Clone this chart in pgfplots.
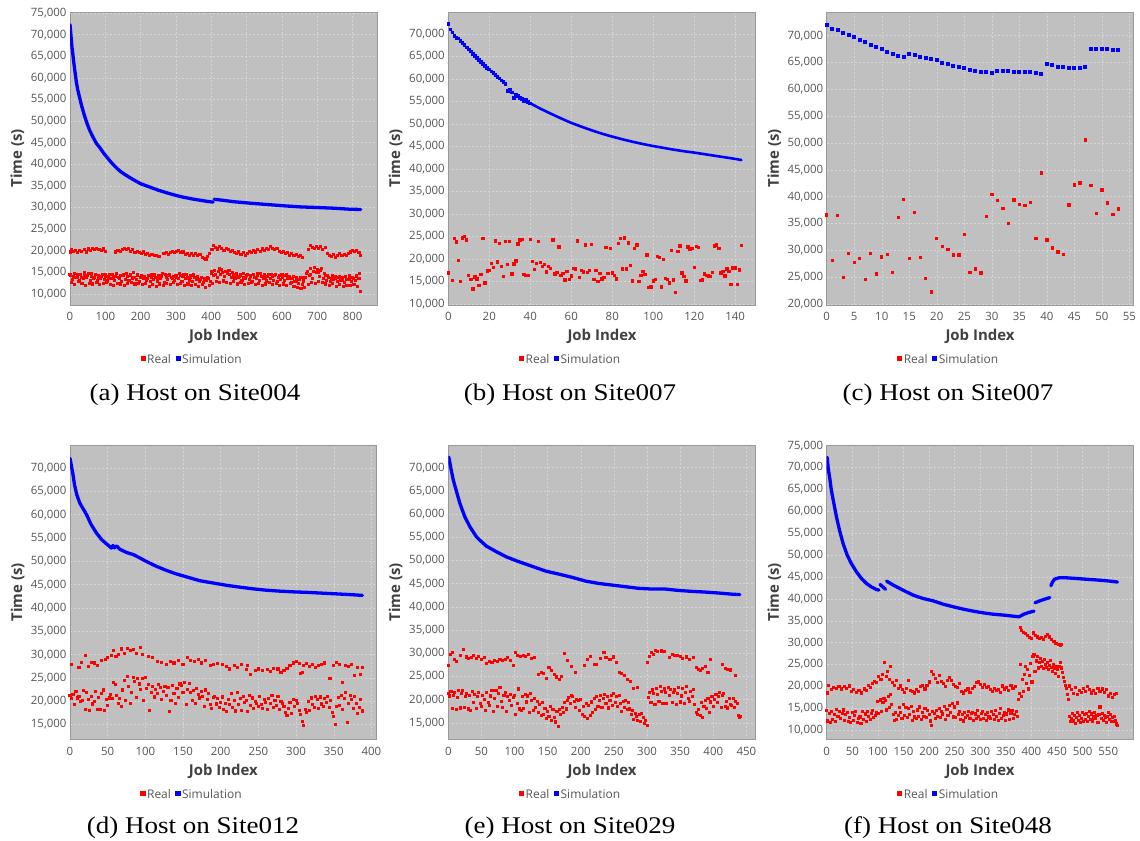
\documentclass[border=0pt]{standalone}
\usepackage{pgfplots}
\pgfplotsset{compat=1.18}
\usepackage{fontspec}
\setmainfont{Liberation Serif}
\newfontfamily\chartfont{Open Sans}
\definecolor{plotbg}{RGB}{192,192,192}
\definecolor{gridc}{RGB}{214,214,214}
\definecolor{tickc}{RGB}{85,85,85}
\definecolor{labc}{RGB}{64,64,64}
\definecolor{realc}{RGB}{255,0,0}
\definecolor{simc}{RGB}{0,0,255}
\pgfplotsset{
  panel/.style={
    scale only axis, anchor=south west,
    axis background/.style={fill=plotbg},
    axis line style={draw=black!40, line width=0.6pt},
    grid=major,
    major grid style={draw=gridc, line width=0.5pt, dash pattern=on 2pt off 2pt},
    tick style={draw=none},
    ytick distance=5000,
    scaled y ticks=false, scaled x ticks=false,
    /pgf/number format/assume math mode=true,
    /pgf/number format/1000 sep={,},
    ticklabel style={font=\chartfont\fontsize{11.5}{13}\selectfont, text=tickc},
    xticklabel style={yshift=-4bp},
    xlabel={Job Index}, ylabel={Time (s)},
    label style={font=\chartfont\bfseries\fontsize{15}{16}\selectfont, text=labc},
    xlabel style={at={(axis description cs:0.5,-0.1075)}, anchor=center},
    ylabel style={at={(axis description cs:-0.171,0.5)}, anchor=center},
    legend columns=-1,
    legend image code/.code={\fill[draw=none, line width=0pt] (0bp,-1.4bp) rectangle (5.2bp,3.8bp);},
    legend style={draw=none, fill=none, at={(axis description cs:0.397,-0.187)}, anchor=center,
      inner sep=0pt, /tikz/every even column/.append style={column sep=3bp},
      nodes={inner xsep=1.5bp, font=\chartfont\fontsize{12}{13}\selectfont, text=tickc}},
  },
  real/.style={only marks, mark=square*, mark size=1.05bp, color=realc, mark options={line width=0pt}},
  simline/.style={color=simc, line width=3.3bp, no marks, line join=round, line cap=round},
  simmark/.style={only marks, mark=square*, mark size=1.4bp, color=simc, mark options={line width=0pt}},
}
\newcommand{\subcap}[2]{\node[font=\fontsize{24}{28}\selectfont, anchor=center] at (#1) {\scalebox{1.13}[1]{#2}};}
\begin{document}
\begin{tikzpicture}
\useasboundingbox (0,0) rectangle (1140bp,841bp);
%% (a)
\begin{axis}[panel, at={(70bp,536bp)}, width=307bp, height=293bp,
  xmin=0, xmax=869, ymin=7450, ymax=75230, xtick distance=100]
\addplot[real] table[row sep=\\]{x y\\0 14600\\10 14100\\20 13800\\30 14500\\40 14900\\50 14300\\60 14700\\70 13900\\80 14200\\90 14000\\100 14400\\110 13700\\120 14600\\130 14100\\140 13600\\150 14300\\160 14800\\170 14400\\180 14900\\190 14200\\200 13800\\210 14100\\220 13500\\230 13900\\240 14400\\250 13700\\260 14000\\270 14600\\280 14200\\290 13600\\300 14300\\310 14800\\320 14100\\330 14500\\340 13900\\350 14400\\360 13700\\370 13300\\380 13600\\390 13900\\400 14800\\410 15400\\420 15100\\430 15600\\440 15300\\450 15500\\460 14900\\470 14400\\480 14100\\490 14700\\500 14300\\510 14000\\520 14500\\530 14200\\540 14800\\550 14400\\560 14100\\570 14600\\580 14300\\590 13900\\600 14500\\610 14200\\620 14000\\630 13600\\640 13900\\650 13300\\660 13700\\670 14800\\680 15900\\690 15200\\700 15700\\710 15400\\720 14800\\730 14300\\740 13600\\750 14100\\760 13800\\770 13400\\780 14000\\790 13700\\800 13900\\810 14300\\820 14800\\};
\addlegendentry{Real}
\addplot[simline] table[row sep=\\]{x y\\0 72300\\2 70500\\4 68500\\6 66800\\8 65500\\10 64000\\14 61500\\18 59000\\22 57200\\27 55500\\33 53500\\40 51500\\48 49500\\56 47800\\65 46300\\75 44800\\84 43900\\95 42600\\105 41600\\115 40600\\125 39700\\135 38900\\145 38200\\160 37400\\178 36500\\200 35500\\227 34700\\250 34000\\274 33400\\300 32800\\320 32400\\345 32000\\367 31700\\390 31400\\405 31250\\};
\addlegendentry{Simulation}
\addplot[simline, forget plot] table[row sep=\\]{x y\\408 31900\\430 31700\\463 31350\\510 31000\\557 30700\\604 30400\\651 30150\\699 30000\\745 29850\\793 29600\\823 29550\\};
\addplot[real, forget plot] table[row sep=\\]{x y\\4 12600\\14 12200\\24 12800\\34 12400\\44 12000\\54 12500\\64 12300\\74 12700\\84 12100\\94 12400\\104 12600\\114 12200\\124 11900\\134 12500\\144 12300\\154 12000\\164 12400\\174 12700\\184 12300\\194 12500\\204 12100\\214 12400\\224 11800\\234 12200\\244 11700\\254 12300\\264 12000\\274 12500\\284 12200\\294 12600\\304 12100\\314 12400\\324 12000\\334 12300\\344 11900\\354 12200\\364 11800\\374 12100\\384 11400\\394 11900\\404 12500\\414 12900\\424 12600\\434 13000\\444 12700\\454 12400\\464 12800\\474 12300\\484 12600\\494 12100\\504 12400\\514 12700\\524 12200\\534 12500\\544 12000\\554 12300\\564 12600\\574 12100\\584 12400\\594 11900\\604 12300\\614 12000\\624 12500\\634 11800\\644 11600\\654 11300\\664 11500\\674 12200\\684 12700\\694 12400\\704 12900\\714 12600\\724 12300\\734 12000\\744 12400\\754 11800\\764 12100\\774 11700\\784 12000\\794 11900\\804 12200\\814 11800\\823 10500\\};
\addplot[real, forget plot] table[row sep=\\]{x y\\7 13400\\17 13900\\27 13100\\37 13600\\47 13800\\57 13200\\67 13500\\77 13000\\87 13700\\97 13300\\107 13000\\117 13600\\127 13200\\137 13800\\147 12900\\157 13400\\167 13100\\177 13700\\187 13300\\197 12900\\207 13500\\217 13200\\227 12800\\237 13400\\247 13000\\257 13600\\267 12700\\277 13300\\287 13800\\297 13100\\307 13500\\317 12900\\327 13600\\337 13200\\347 12800\\357 13400\\367 12900\\377 12600\\387 13100\\397 12800\\407 14200\\417 13800\\427 14500\\437 14000\\447 14700\\457 13900\\467 13500\\477 13800\\487 13200\\497 13600\\507 13300\\517 12900\\527 13700\\537 13100\\547 13500\\557 13000\\567 13600\\577 13200\\587 12800\\597 13400\\607 13100\\617 13600\\627 12700\\637 12900\\647 12500\\657 12200\\667 13800\\677 14300\\687 13600\\697 14900\\707 14100\\717 13500\\727 13200\\737 12800\\747 13300\\757 12900\\767 13100\\777 12600\\787 13400\\797 12800\\807 13200\\817 13600\\};
\addplot[real, forget plot] table[row sep=\\]{x y\\2 14200\\12 14700\\22 14400\\32 13900\\42 14300\\52 14800\\62 14000\\72 14500\\82 13700\\92 14600\\102 14100\\112 14500\\122 13900\\132 14700\\142 14200\\152 14600\\162 14000\\172 14300\\182 13800\\192 14600\\202 14300\\212 13700\\222 14200\\232 14600\\242 13800\\252 14300\\262 14700\\272 13900\\282 14400\\292 14100\\302 13800\\312 14300\\322 14600\\332 13700\\342 14200\\352 13900\\362 14100\\372 13800\\382 13200\\392 13500\\402 15100\\412 14600\\422 15800\\432 14900\\442 15200\\452 14600\\462 14200\\472 14800\\482 14400\\492 13900\\502 14600\\512 14300\\522 13800\\532 14700\\542 14100\\552 13900\\562 14500\\572 14000\\582 14600\\592 14200\\602 13800\\612 14400\\622 13500\\632 14100\\642 13200\\652 13800\\662 12900\\672 15300\\682 14600\\692 16200\\702 15000\\712 15800\\722 14200\\732 13800\\742 14300\\752 13500\\762 14000\\772 13800\\782 13300\\792 14200\\802 13600\\812 14000\\820 13500\\};
\addplot[real, forget plot] table[row sep=\\]{x y\\1 19700\\4 20300\\9 19800\\15 20100\\21 19600\\26 20000\\33 19900\\40 20200\\46 19700\\52 20400\\58 20100\\64 20500\\70 20200\\76 20600\\82 20300\\88 20000\\94 20400\\100 19900\\130 19700\\136 20100\\142 19800\\148 20300\\154 20600\\160 20200\\166 20500\\172 19900\\178 20200\\184 19600\\190 19900\\196 19500\\202 19300\\208 19700\\214 19100\\220 19400\\226 18900\\232 19200\\238 18800\\244 19000\\252 18700\\266 19300\\272 19600\\278 19200\\284 19500\\290 19900\\296 19600\\302 19800\\308 20100\\314 19500\\320 19700\\326 19100\\332 19400\\338 18900\\344 19300\\350 19000\\356 19400\\362 18800\\368 19100\\374 18500\\380 18200\\385 17900\\390 18600\\396 19300\\402 20200\\406 21200\\412 20700\\418 20400\\424 20900\\430 20500\\436 20100\\442 20600\\448 20200\\454 19800\\460 20000\\466 19600\\472 19300\\478 19700\\484 19200\\490 19500\\496 19000\\502 19400\\508 19800\\514 19500\\520 20000\\526 19700\\532 20200\\538 19900\\544 20400\\550 20100\\556 20600\\562 20300\\568 21000\\574 20600\\580 20200\\586 20500\\592 19900\\598 19500\\604 19800\\610 19300\\616 19600\\622 19000\\628 19400\\634 18800\\640 19200\\646 18700\\652 19000\\658 18500\\676 20300\\681 21200\\686 20800\\692 20500\\698 21000\\704 20600\\710 20900\\716 20300\\722 20700\\728 19400\\734 19000\\740 18700\\746 19100\\752 18500\\758 18900\\764 19300\\770 18800\\776 19200\\782 19000\\788 19400\\794 19700\\800 20100\\806 19800\\812 20000\\818 19500\\822 19000\\};
\end{axis}
%% (b)
\begin{axis}[panel, at={(448.3bp,536bp)}, width=307.4bp, height=293bp,
  xmin=0, xmax=150, ymin=9780, ymax=74900, xtick distance=20]
\addplot[real, mark size=1.2bp] table[row sep=\\]{x y\\0 16900\\2 15200\\3 24600\\4 23800\\5 19700\\6 15000\\7 24700\\8 25000\\9 24200\\10 16400\\11 15500\\12 13300\\13 16000\\14 15600\\15 14100\\16 16600\\17 24600\\18 14700\\19 17300\\20 17500\\21 19000\\22 18100\\23 24000\\24 19300\\25 23500\\26 18400\\27 16100\\28 23900\\29 18800\\30 23900\\31 16700\\32 18900\\33 19600\\34 23300\\35 24200\\36 24400\\37 16600\\38 16400\\39 16300\\40 24300\\41 19400\\42 17700\\43 19000\\44 23900\\45 19200\\46 18300\\47 18800\\48 17100\\49 18300\\50 17900\\51 24200\\52 16700\\53 17000\\54 22700\\55 16400\\56 16800\\57 15300\\58 17200\\59 15500\\60 16200\\61 17900\\62 17800\\63 24000\\64 15900\\65 17500\\66 17100\\67 23100\\68 17000\\69 17500\\70 23200\\71 15500\\72 17500\\73 15000\\74 16800\\75 15600\\76 15900\\77 22600\\78 16800\\79 22400\\80 16900\\81 16400\\82 15600\\83 23400\\84 24500\\85 17800\\86 24700\\87 17800\\88 23600\\89 18600\\90 15100\\91 22300\\92 23100\\93 15000\\94 16300\\95 17200\\96 16600\\97 20900\\98 13700\\99 13800\\100 15100\\101 15500\\102 20500\\103 20400\\104 13800\\105 19900\\106 15700\\107 15500\\108 14700\\109 21900\\110 15300\\111 12600\\112 21700\\113 22900\\114 16900\\115 16100\\116 15100\\117 22700\\118 22100\\119 22400\\120 18100\\121 22800\\122 22600\\123 15200\\124 15300\\125 16700\\126 16400\\127 16200\\128 16100\\129 17000\\130 22900\\131 23100\\132 22300\\133 16900\\134 17200\\135 16200\\136 17800\\137 17200\\138 14400\\139 18000\\140 18000\\141 14300\\142 17600\\143 23000\\};
\addlegendentry{Real}
\addplot[simmark, mark size=1.3bp] table[row sep=\\]{x y\\0 72200\\1 71000\\2 70300\\3 69600\\4 69100\\5 69000\\6 68500\\7 68000\\8 67500\\9 67000\\10 66600\\11 66100\\12 65600\\13 65100\\14 64700\\15 64200\\16 63800\\17 63300\\18 62900\\19 62500\\20 62100\\21 61700\\22 61300\\23 60900\\24 60500\\25 60100\\26 59700\\27 59300\\28 58900\\29 57400\\30 57700\\31 57000\\32 55800\\33 56600\\34 56200\\35 55800\\36 55500\\37 55100\\38 55300\\39 54900\\40 54600\\};
\addlegendentry{Simulation}
\addplot[simline, line width=2.6bp, forget plot] table[row sep=\\]{x y\\40 54600\\45 53400\\50 52300\\55 51250\\60 50250\\65 49400\\70 48600\\75 47850\\80 47200\\85 46600\\90 46050\\95 45550\\100 45100\\105 44700\\110 44300\\115 43950\\120 43650\\125 43300\\130 42950\\135 42600\\140 42250\\143 42000\\};
\end{axis}
%% (c)
\begin{axis}[panel, at={(826.7bp,536bp)}, width=306.6bp, height=293bp,
  xmin=0, xmax=55.7, ymin=19810, ymax=74420, xtick distance=5]
\addplot[real, mark size=1.2bp] table[row sep=\\]{x y\\0 36600\\1 28150\\2 36450\\3 24900\\4 29400\\5 27700\\6 28500\\7 24600\\8 29450\\9 25550\\10 28750\\11 29250\\12 25850\\13 36150\\14 39450\\15 28450\\16 37050\\17 28700\\18 24800\\19 22250\\20 32250\\21 30700\\22 30100\\23 29150\\24 29100\\25 33000\\26 25900\\27 26550\\28 25800\\29 36300\\30 40450\\31 39300\\32 37850\\33 35000\\34 39400\\35 38550\\36 38350\\37 38950\\38 32200\\39 44400\\40 31900\\41 30450\\42 29700\\43 29250\\44 38450\\45 42150\\46 42550\\47 50550\\48 42100\\49 36900\\50 41250\\51 38850\\52 36700\\53 37700\\};
\addlegendentry{Real}
\addplot[simmark, mark size=1.5bp] table[row sep=\\]{x y\\0 72050\\1 71300\\2 71000\\3 70560\\4 70200\\5 69700\\6 69200\\7 68750\\8 68300\\9 67900\\10 67450\\11 67000\\12 66600\\13 66200\\14 66000\\15 66650\\16 66350\\17 66100\\18 65850\\19 65600\\20 65400\\21 65000\\22 64650\\23 64400\\24 64150\\25 63900\\26 63650\\27 63450\\28 63300\\29 63150\\30 63000\\31 63500\\32 63450\\33 63400\\34 63300\\35 63150\\36 63200\\37 63150\\38 63000\\39 62800\\40 64650\\41 64450\\42 64200\\43 64100\\44 63950\\45 63900\\46 63950\\47 64100\\48 67500\\49 67500\\50 67450\\51 67450\\52 67400\\53 67250\\};
\addlegendentry{Simulation}
\end{axis}
%% (d)
\begin{axis}[panel, at={(70bp,101.5bp)}, width=306.7bp, height=294.5bp,
  xmin=0, xmax=407, ymin=11790, ymax=74950, xtick distance=50]
\addplot[real] table[row sep=\\]{x y\\0 21200\\2 20600\\4 21500\\6 19300\\8 22100\\10 20700\\12 21000\\14 19900\\16 20200\\18 22300\\20 18200\\22 21900\\24 20400\\26 18100\\28 21100\\30 19400\\32 20000\\34 22000\\36 18300\\38 20800\\40 18200\\42 21600\\44 22400\\46 18100\\48 20300\\50 19000\\52 20700\\54 21400\\56 20600\\58 24100\\60 23500\\62 21200\\64 19600\\66 20500\\68 18800\\70 22400\\72 24400\\74 20100\\76 25300\\78 23200\\80 19600\\82 21800\\84 25000\\86 24300\\88 20800\\90 24900\\92 23700\\94 22600\\96 24800\\98 20100\\100 25000\\102 22700\\104 23600\\106 18100\\108 21900\\110 23200\\112 20900\\114 22500\\116 21600\\118 23600\\120 22900\\122 20400\\124 22100\\126 23200\\128 21300\\130 22900\\132 17700\\134 20200\\136 23400\\138 21600\\140 19600\\142 22800\\144 20800\\146 23700\\148 23300\\150 21900\\152 24000\\154 19300\\156 22600\\158 23800\\160 21800\\162 20100\\164 22300\\166 19600\\168 22800\\170 21500\\172 20700\\174 22100\\176 21000\\178 18800\\180 22400\\182 20300\\184 21700\\186 19200\\188 18500\\190 20800\\192 21100\\194 19400\\196 20500\\198 18600\\200 19800\\202 20900\\204 18300\\206 19500\\208 17800\\210 20400\\212 19200\\214 21600\\216 18600\\218 20100\\220 17900\\222 21800\\224 19300\\226 20600\\228 18100\\230 21000\\232 19700\\234 20200\\236 17700\\238 21200\\240 19000\\242 20700\\244 18400\\246 20000\\248 19500\\250 18800\\252 21000\\254 19200\\256 18500\\258 20400\\260 19800\\262 18200\\264 20600\\266 19500\\268 21300\\270 18700\\272 20200\\274 19100\\276 21000\\278 18300\\280 20000\\282 19600\\284 18900\\286 17500\\288 16900\\290 18400\\292 19700\\294 17400\\296 20400\\298 18800\\300 20200\\302 19500\\304 18000\\306 17200\\308 15600\\310 14700\\312 18300\\314 17500\\316 20000\\318 18100\\320 20700\\322 19200\\324 18600\\326 21000\\328 20300\\330 18500\\332 20900\\334 19400\\336 18800\\338 20500\\340 19700\\342 21100\\344 18600\\346 20200\\348 17600\\350 16700\\352 15000\\354 18900\\356 20800\\358 19100\\360 21200\\362 18300\\364 20600\\366 21800\\368 15500\\370 19600\\372 21200\\374 20300\\376 18400\\378 21000\\380 19500\\382 17400\\384 18600\\386 20400\\388 17900\\};
\addlegendentry{Real}
\addplot[simline] table[row sep=\\]{x y\\0 72100\\2 70350\\4 68600\\6 66400\\9 64300\\13 62500\\17 61400\\22 60000\\28 57900\\35 56100\\42 54650\\48 53800\\55 52850\\57 53400\\59 52900\\62 53300\\66 52600\\75 51900\\84 51450\\93 50700\\101 50000\\115 48900\\128 48050\\141 47300\\155 46650\\172 45850\\190 45350\\208 44850\\226 44450\\243 44100\\261 43800\\279 43600\\297 43450\\314 43350\\332 43200\\350 43050\\368 42900\\388 42700\\};
\addlegendentry{Simulation}
\addplot[real, forget plot] table[row sep=\\]{x y\\2 27800\\12 27200\\15 28300\\20 29800\\24 27400\\29 28400\\33 28200\\37 27700\\42 28800\\47 29000\\50 29400\\55 29800\\58 30900\\61 29600\\64 30000\\68 31200\\72 30200\\76 31300\\80 30900\\84 31000\\88 30200\\93 31500\\96 30000\\104 29500\\110 29300\\116 28600\\122 28400\\128 27900\\133 28500\\138 28200\\144 28700\\150 27900\\156 29400\\160 28800\\165 28500\\170 29000\\175 28200\\180 28700\\186 27700\\190 27900\\196 28000\\202 27800\\208 27400\\212 26900\\218 27600\\222 27300\\228 27800\\234 26800\\236 27700\\240 25800\\246 26600\\250 26900\\256 26500\\262 26800\\266 26300\\270 27100\\276 26900\\280 26200\\284 26500\\288 27000\\292 27600\\296 28200\\300 28500\\304 28100\\306 25900\\309 26200\\310 27600\\314 28000\\318 27400\\322 27800\\326 27300\\330 27600\\334 27900\\338 28200\\345 24800\\350 27600\\354 28300\\358 27800\\362 24100\\366 27700\\370 27500\\374 27900\\378 25500\\382 27300\\386 25700\\388 27200\\};
\end{axis}
%% (e)
\begin{axis}[panel, at={(448.3bp,101.5bp)}, width=307.4bp, height=294.5bp,
  xmin=0, xmax=464, ymin=11420, ymax=74900, xtick distance=50]
\addplot[real] table[row sep=\\]{x y\\0 21300\\2 20800\\4 21700\\6 18100\\8 20900\\10 21600\\12 17900\\14 20500\\16 21900\\18 18200\\20 21400\\22 22000\\24 18300\\26 20700\\28 21300\\30 18000\\32 20900\\34 17700\\36 21800\\38 19400\\40 21200\\42 18100\\44 20600\\46 21500\\48 19100\\50 18500\\52 21000\\54 20100\\56 17600\\58 21600\\60 19300\\62 18700\\64 20800\\66 21900\\68 17500\\70 20300\\72 22000\\74 18600\\76 21400\\78 22600\\80 19700\\82 18300\\84 20900\\86 21500\\88 17400\\90 20700\\92 19900\\94 21100\\96 18800\\98 20500\\100 21000\\102 16900\\104 19200\\106 22300\\108 18000\\110 17600\\112 20600\\114 18100\\116 21200\\118 19500\\120 20800\\122 17300\\124 21300\\126 19900\\128 17600\\130 20300\\132 18400\\134 19600\\136 17200\\138 18900\\140 16500\\142 19400\\144 16900\\146 18100\\148 15900\\150 17400\\152 16300\\154 18600\\156 15500\\158 17800\\160 16100\\162 15200\\164 17500\\166 14300\\168 17900\\170 16800\\172 18400\\174 17200\\176 19300\\178 18000\\180 19800\\182 20500\\184 19200\\186 21000\\188 20700\\190 19600\\192 18300\\194 20100\\196 19800\\198 17600\\200 20000\\202 16800\\204 18500\\206 16300\\208 19200\\210 15900\\212 18800\\214 16600\\216 19500\\218 17300\\220 20200\\222 17900\\224 20700\\226 18600\\228 19900\\230 20900\\232 18400\\234 20300\\236 21100\\238 19200\\240 20600\\242 18200\\244 19800\\246 20900\\248 18700\\250 21300\\252 19400\\254 20700\\256 18500\\258 21000\\260 19100\\262 17500\\264 19700\\266 18400\\268 19900\\270 17800\\272 19300\\274 18000\\276 16800\\278 17600\\280 15800\\282 17000\\284 16300\\286 15600\\288 16800\\290 15300\\292 17100\\294 16200\\296 14900\\298 15600\\300 14500\\302 20500\\304 21600\\306 19300\\308 22100\\310 21400\\312 19000\\314 22500\\316 21200\\318 19600\\320 22800\\322 21700\\324 19200\\326 22300\\328 21500\\330 19100\\332 22600\\334 21000\\336 22200\\338 19400\\340 21600\\342 22100\\344 18900\\346 21300\\348 22700\\350 19500\\352 20800\\354 22400\\356 19200\\358 21500\\360 22900\\362 20300\\364 19700\\366 21800\\368 20600\\370 22200\\372 19000\\374 17300\\376 16900\\378 17800\\380 16500\\382 19300\\384 16200\\386 18600\\388 19800\\390 18100\\392 20300\\394 17300\\396 19500\\398 20700\\400 18600\\402 20100\\404 21200\\406 19400\\408 20600\\410 21600\\412 18300\\414 20900\\416 21400\\418 18600\\420 19700\\422 18200\\424 20200\\426 19000\\428 18800\\430 20300\\432 18400\\434 19600\\436 19100\\438 16500\\440 16100\\441 16400\\};
\addlegendentry{Real}
\addplot[simline] table[row sep=\\]{x y\\0 72300\\1 72150\\3.5 70200\\7.5 67350\\12.5 64800\\17.5 62300\\25 59400\\32.5 57300\\42.5 55100\\47.5 54400\\57.5 53100\\72.5 51900\\87.5 50800\\102.5 49950\\117.5 49200\\132.5 48450\\147.5 47700\\167.5 47050\\187.5 46350\\207.5 45550\\227.5 45050\\247.5 44700\\267.5 44350\\287.5 44000\\307.5 43850\\327.5 43850\\347.5 43550\\367.5 43350\\387.5 43200\\407.5 43000\\427.5 42750\\440 42650\\};
\addlegendentry{Simulation}
\addplot[real, forget plot] table[row sep=\\]{x y\\0 27400\\3 29700\\7 30100\\10 28600\\13 28300\\18 29600\\23 30800\\27 29200\\31 28900\\35 29100\\38 29500\\42 28800\\46 29300\\50 28700\\54 29000\\58 27800\\62 28300\\66 28100\\70 28500\\74 28200\\78 28700\\82 28400\\86 28600\\90 29100\\94 28500\\98 27300\\101 30200\\105 29500\\109 29300\\113 29600\\117 29400\\121 29700\\126 28900\\130 29100\\136 25400\\140 25800\\144 25600\\148 24500\\152 26900\\156 26300\\160 25500\\163 24900\\168 24300\\171 25000\\176 30000\\180 28400\\186 27200\\192 25800\\206 27300\\210 28600\\214 29400\\220 27500\\224 27500\\230 28900\\235 30200\\238 29000\\244 28700\\250 29200\\254 28000\\258 25900\\262 25700\\266 25300\\270 24400\\275 24000\\280 22500\\286 22700\\300 28000\\304 29400\\307 30100\\310 29800\\313 30700\\316 30300\\322 30500\\326 30400\\334 29100\\338 29800\\342 29500\\346 29600\\350 29300\\354 28900\\360 29200\\364 28700\\370 29000\\374 26900\\377 26500\\380 26200\\384 26800\\388 27100\\392 25900\\396 28700\\414 27600\\418 26700\\422 26500\\426 26400\\433 25300\\};
\end{axis}
%% (f)
\begin{axis}[panel, at={(826.7bp,101.5bp)}, width=306.6bp, height=294.5bp,
  xmin=0, xmax=599, ymin=7870, ymax=75160, xtick distance=50]
\addplot[real] table[row sep=\\]{x y\\0 14400\\2 12100\\5 13900\\7 11800\\10 14200\\12 12400\\15 13500\\17 12000\\20 14800\\22 13200\\25 14300\\27 12600\\30 13800\\32 14600\\35 12300\\37 13600\\40 14100\\42 11900\\45 12800\\47 11700\\50 14000\\52 12200\\55 13300\\57 14300\\60 11800\\62 12700\\65 13000\\67 11600\\70 14200\\72 12400\\75 13700\\77 11900\\80 14300\\82 13100\\85 12500\\87 13900\\90 14500\\92 12900\\95 13400\\97 14100\\100 16600\\102 13800\\105 16900\\107 14200\\110 16400\\112 17200\\115 16800\\117 14600\\120 17600\\122 15100\\125 18200\\127 15900\\130 13600\\132 12300\\135 14100\\137 12400\\140 13300\\142 15200\\145 14000\\147 12600\\150 15800\\152 13400\\155 15100\\157 12800\\160 14900\\162 13600\\165 15500\\167 12200\\170 14300\\172 13000\\175 12700\\177 14600\\180 13200\\182 15300\\185 12400\\187 14000\\190 13100\\192 15000\\195 12900\\197 14400\\200 13600\\202 12100\\205 11100\\207 14200\\210 13800\\212 12600\\215 14500\\217 13200\\220 15000\\222 12800\\225 14200\\227 13700\\230 15400\\232 12500\\235 14800\\237 13400\\240 15600\\242 14100\\245 16000\\247 13000\\250 15300\\252 12900\\255 16200\\257 13600\\260 14200\\262 12400\\265 13500\\267 12100\\270 14000\\272 12800\\275 13400\\277 14300\\280 12600\\282 13800\\285 14100\\287 12200\\290 13700\\292 12700\\295 14400\\297 13200\\300 12400\\302 13900\\305 14200\\307 12600\\310 13500\\312 12300\\315 14000\\317 13000\\320 12700\\322 14300\\325 13600\\327 12400\\330 14500\\332 13100\\335 12200\\337 13800\\340 14900\\342 12600\\345 13400\\347 14100\\350 12300\\352 13700\\355 14600\\357 12500\\360 13900\\362 14400\\365 12700\\367 13500\\370 14200\\372 13100\\};
\addlegendentry{Real}
\addplot[simline] table[row sep=\\]{x y\\0 72300\\1 72250\\3 69800\\6 67550\\9 64850\\14 61800\\19 58750\\25 55700\\32 52650\\40 50000\\48 48100\\58 46200\\68 44650\\78 43500\\87 42750\\97 42150\\102 42000\\};
\addlegendentry{Simulation}
\addplot[simline, forget plot] table[row sep=\\]{x y\\104 43300\\108 42900\\112 42500\\115 42200\\};
\addplot[simline, forget plot] table[row sep=\\]{x y\\117 44050\\130 43150\\149 42000\\169 40850\\188 40100\\208 39550\\227 38800\\247 38200\\267 37650\\286 37200\\306 36800\\325 36500\\345 36300\\364 36050\\376 35900\\385 36500\\395 36900\\405 37200\\};
\addplot[simline, forget plot] table[row sep=\\]{x y\\407 39100\\415 39500\\425 39900\\436 40300\\};
\addplot[simline, forget plot] table[row sep=\\]{x y\\438 43000\\441 43800\\445 44500\\455 44850\\470 44800\\500 44550\\530 44300\\550 44100\\568 43850\\};
\addplot[real, forget plot] table[row sep=\\]{x y\\1 18500\\4 20200\\9 19300\\14 19800\\19 19500\\24 20000\\29 19400\\34 19900\\39 19600\\44 20100\\49 18800\\53 19300\\58 18600\\63 19000\\68 18500\\73 19400\\78 19100\\82 20300\\86 19800\\90 20600\\94 21200\\98 20800\\102 22300\\106 21600\\109 22800\\113 25500\\116 22200\\119 23400\\123 21500\\125 24500\\128 20800\\132 20200\\136 21300\\140 19500\\144 20100\\148 19200\\152 18700\\156 19600\\160 21300\\164 19000\\168 18900\\172 18500\\176 19300\\180 18800\\184 19900\\188 20300\\192 19400\\196 20200\\200 21000\\204 23400\\208 22800\\212 21800\\216 20900\\220 22500\\224 21200\\228 20600\\232 19900\\236 21400\\240 22000\\244 21300\\248 20500\\252 20000\\256 19800\\260 20600\\264 18800\\268 18500\\272 19000\\276 19400\\280 18700\\284 19600\\288 20000\\292 20800\\296 21000\\300 20400\\304 19800\\308 20500\\312 19700\\316 20000\\320 19200\\324 18900\\328 19500\\332 19000\\336 19300\\340 18700\\344 20100\\348 19400\\352 19800\\356 19100\\360 20200\\364 19600\\368 19900\\};
\addplot[real, forget plot] table[row sep=\\]{x y\\378 33500\\381 32800\\384 32400\\388 32100\\392 31700\\396 31100\\400 30900\\404 32200\\408 31600\\412 31300\\416 31000\\420 31200\\424 30800\\428 31500\\432 31900\\436 31300\\440 30700\\444 30200\\448 29800\\452 29500\\456 29300\\459 29600\\375 17000\\377 18300\\379 25000\\381 17700\\383 21500\\385 18900\\387 22800\\389 24600\\391 20600\\393 23800\\395 19400\\397 22500\\399 25200\\401 21000\\403 26800\\405 27200\\407 23400\\409 25800\\411 26900\\413 24200\\415 25400\\417 26300\\419 24600\\421 25700\\423 24000\\425 26200\\427 25100\\429 24300\\431 25500\\433 23800\\435 24700\\437 25900\\439 24300\\441 23500\\443 24900\\445 24100\\447 23000\\449 24500\\451 23800\\453 22200\\455 24600\\457 25500\\459 24200\\461 23100\\463 22000\\465 21200\\467 20300\\469 19600\\471 18100\\473 17000\\};
\addplot[real, forget plot] table[row sep=\\]{x y\\474 20100\\478 19200\\482 18400\\486 19700\\490 18200\\494 19000\\498 18600\\502 19500\\506 18800\\510 20000\\514 19300\\518 18500\\522 19100\\526 18300\\530 19600\\534 18900\\538 19400\\542 18700\\546 19200\\550 17800\\554 18400\\558 17500\\562 18100\\566 18300\\474 13200\\476 11900\\478 12600\\480 13800\\482 12100\\484 13400\\486 11600\\488 12800\\490 14000\\492 12300\\494 13300\\496 11800\\498 12700\\500 14100\\502 12000\\504 13500\\506 12500\\508 13900\\510 11900\\512 13200\\514 14300\\516 12400\\518 13700\\520 12100\\522 13000\\524 14000\\526 12600\\528 13300\\530 11800\\532 13600\\534 15300\\536 12700\\538 13800\\540 12200\\542 13400\\544 12900\\546 11700\\548 13100\\550 14000\\552 12500\\554 13600\\556 12000\\558 12800\\560 11900\\562 13200\\564 12300\\566 11400\\568 11000\\};
\end{axis}
\subcap{195bp,446bp}{(a) Host on Site004}
\subcap{570bp,446bp}{(b) Host on Site007}
\subcap{948bp,446bp}{(c) Host on Site007}
\subcap{193bp,13.5bp}{(d) Host on Site012}
\subcap{570bp,13.5bp}{(e) Host on Site029}
\subcap{948bp,13.5bp}{(f) Host on Site048}
\end{tikzpicture}
\end{document}
